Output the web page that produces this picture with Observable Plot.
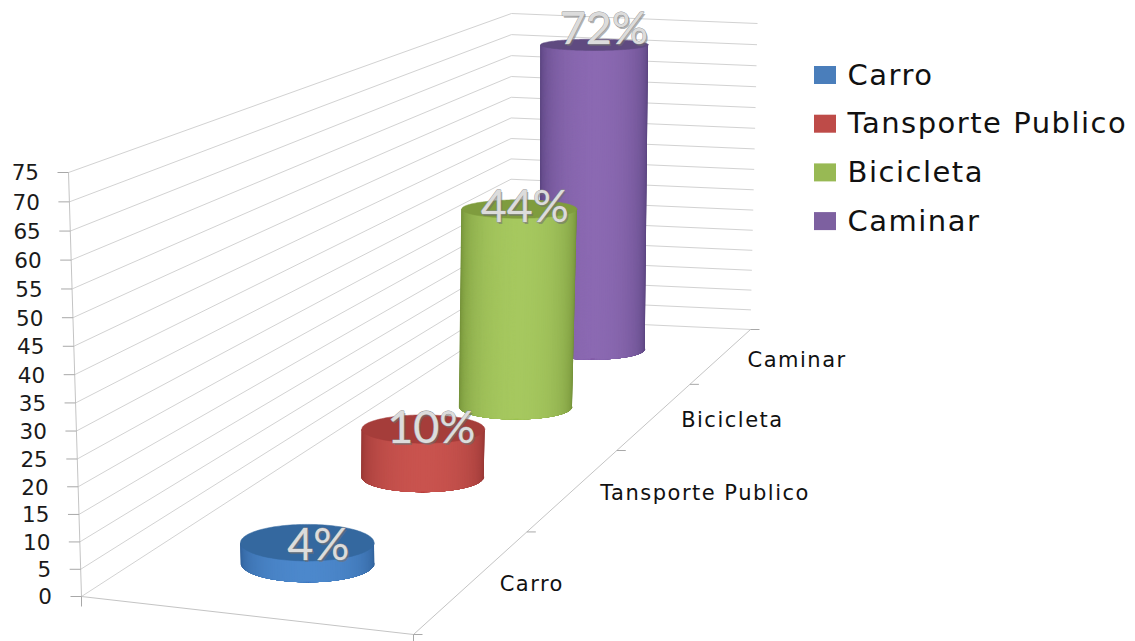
<!DOCTYPE html>
<html>
<head>
<meta charset="utf-8">
<script src="https://cdn.jsdelivr.net/npm/d3@7"></script>
<script src="https://cdn.jsdelivr.net/npm/@observablehq/plot@0.6"></script>
<style>
  html, body { margin: 0; padding: 0; background: #fff; }
  .cat-label { letter-spacing: 1.5px; }
  .legend-label { letter-spacing: 1.5px; }
</style>
</head>
<body>
<div id="chart"></div>
<script>
// Series
const categories = ["Carro", "Tansporte Publico", "Bicicleta", "Caminar"];
const values = [4, 10, 44, 72];
const valueTicks = [0, 5, 10, 15, 20, 25, 30, 35, 40, 45, 50, 55, 60, 65, 70, 75];

// Palette, one entry per category
const legendColors = ["#4a7ebb", "#be4b48", "#98b954", "#7d60a0"];
const sideDark = ["#2d5c94", "#8f3230", "#6d8a33", "#533f78"];
const sideLight = ["#4c88cc", "#c9534e", "#a6c85f", "#8b69b2"];
const capColors = ["#34689f", "#a53d3a", "#7f9c3e", "#5f4a80"];

// Nudges of each value label relative to its column cap
const labelShift = [11, 8, 5.5, 9.5];
const labelLift = [-3, 0, 1, 15];

// Box corners on screen: front-left, front-right, back-right, back-left
const floorCorners = [[81, 596], [413, 634], [750, 329], [510, 318]];
const roofCorners = [[68, 172], [411, 234], [757, 23], [511, 13]];
const valueMax = 75;
const verticalPerspective = 0.96;
const columnCentre = 0.494;
const radiusAcross = 0.21;
const radiusDepth = 0.048;

// Maps the unit square onto a quadrilateral
function homography([p0, p1, p2, p3]) {
  const dx1 = p1[0] - p2[0], dx2 = p3[0] - p2[0], sx = p0[0] - p1[0] + p2[0] - p3[0];
  const dy1 = p1[1] - p2[1], dy2 = p3[1] - p2[1], sy = p0[1] - p1[1] + p2[1] - p3[1];
  const det = dx1 * dy2 - dx2 * dy1;
  const g = (sx * dy2 - dx2 * sy) / det;
  const h = (dx1 * sy - sx * dy1) / det;
  const a = p1[0] - p0[0] + g * p1[0], b = p3[0] - p0[0] + h * p3[0];
  const d = p1[1] - p0[1] + g * p1[1], e = p3[1] - p0[1] + h * p3[1];
  return (u, v) => {
    const w = g * u + h * v + 1;
    return [(a * u + b * v + p0[0]) / w, (d * u + e * v + p0[1]) / w];
  };
}
const floorMap = homography(floorCorners);
const roofMap = homography(roofCorners);

// Chart space to screen: u runs across, c runs into the depth, v is the value
function project(u, c, v) {
  const t = v / valueMax;
  const a = floorMap(u, c), b = roofMap(u, c);
  const wb = t * verticalPerspective, wa = 1 - t;
  return [(wb * b[0] + wa * a[0]) / (wb + wa), (wb * b[1] + wa * a[1]) / (wb + wa)];
}
const depthOf = (i) => (i + 0.5) / categories.length;
const seg = (a, b) => ({x1: a[0], y1: a[1], x2: b[0], y2: b[1]});

// Upright ellipse of a column at a given level: centre plus local screen radii
function ellipseAt(c, level) {
  const [cx, cy] = project(columnCentre, c, level);
  const span = project(1, c, level)[0] - project(0, c, level)[0];
  const rise = (project(columnCentre, c - 0.02, level)[1] - project(columnCentre, c + 0.02, level)[1]) / 0.04;
  const rx = radiusAcross * span, ry = radiusDepth * rise;
  return (a) => [cx + rx * Math.cos(a), cy + ry * Math.sin(a)];
}

// Wall gridlines
const grid = valueTicks.flatMap((v) => [
  seg(project(0, 0, v), project(0, 1, v)),
  seg(project(0, 1, v), project(1, 1, v))
]);
// Axis lines along the floor and up the front edge
const axes = [
  seg(project(0, 0, 0), project(0, 0, valueMax)),
  seg(project(0, 0, 0), project(1, 0, 0)),
  seg(project(1, 0, 0), project(1, 1, 0))
];
const valueTickMarks = valueTicks.map((v) => {
  const p = project(0, 0, v);
  return seg([p[0] - 11, p[1]], p);
});
const depthBounds = d3.range(categories.length + 1).map((i) => i / categories.length);
const depthTickMarks = depthBounds.map((c) => {
  const p = project(1, c, 0);
  return seg(p, [p[0] + 9, p[1]]);
});
const cornerTicks = [project(0, 0, 0), project(1, 0, 0)].map((p) => seg(p, [p[0], p[1] + 10]));

// Cylinders become filled polygons, painted back to front.
// The wall is a stack of nested bands, each narrower and brighter than the last,
// which gives a smooth sideways shading without seams between neighbours.
const polys = [];
const bands = 40, arcPoints = 48;
categories.map((_, i) => i).reverse().forEach((i) => {
  const c0 = depthOf(i), v = values[i];
  const base = ellipseAt(c0, 0), top = ellipseAt(c0, v);
  const shade = d3.interpolateRgb(sideDark[i], sideLight[i]);
  d3.range(bands).forEach((k) => {
    const from = (k / bands) * (Math.PI / 2), to = Math.PI - from;
    const fill = shade(Math.pow(Math.sin(from), 0.75));
    const id = `side-${i}-${k}`;
    const arc = d3.range(arcPoints + 1).map((n) => from + (n / arcPoints) * (to - from));
    [...arc.map(base), ...arc.slice().reverse().map(top)].forEach(([x, y]) =>
      polys.push({id, x, y, fill}));
  });
  d3.range(arcPoints * 3).forEach((k) => {
    const [x, y] = top((k / (arcPoints * 3)) * 2 * Math.PI);
    polys.push({id: `cap-${i}`, x, y, fill: capColors[i]});
  });
});

// Value labels sit on the column caps
const barLabels = categories.map((name, i) => {
  const p = project(columnCentre, depthOf(i), values[i]);
  return {x: p[0] + labelShift[i], y: p[1] - labelLift[i], text: `${values[i]}%`};
});
const valueLabels = valueTicks.map((v) => {
  const p = project(0, 0, v);
  return {x: p[0] - 29.5, y: p[1] + 1, text: String(v)};
});
const categoryLabels = categories.map((name, i) => {
  const p = project(1, depthOf(i), 0);
  return {x: p[0] + 26, y: p[1] + 4.5, text: name};
});

// Legend entries stacked down the right side
const legendLeft = 814, legendTop = 75, legendStep = 48.7;
const legend = categories.map((name, i) => ({
  name, color: legendColors[i], y: legendTop + i * legendStep
}));

const sans = "DejaVu Sans";
const plot = Plot.plot({
  width: 1135,
  height: 641,
  margin: 0,
  x: {domain: [0, 1135], range: [0, 1135], axis: null},
  y: {domain: [0, 641], range: [0, 641], axis: null},
  style: {background: "#fff"},
  marks: [
    Plot.link(grid, {x1: "x1", y1: "y1", x2: "x2", y2: "y2", stroke: "#d2d2d2", strokeWidth: 1}),
    Plot.link(axes, {x1: "x1", y1: "y1", x2: "x2", y2: "y2", stroke: "#c4c4c4", strokeWidth: 1}),
    Plot.link(valueTickMarks, {x1: "x1", y1: "y1", x2: "x2", y2: "y2", stroke: "#a8a8a8", strokeWidth: 1}),
    Plot.link(depthTickMarks, {x1: "x1", y1: "y1", x2: "x2", y2: "y2", stroke: "#a8a8a8", strokeWidth: 1}),
    Plot.link(cornerTicks, {x1: "x1", y1: "y1", x2: "x2", y2: "y2", stroke: "#a8a8a8", strokeWidth: 1}),
    Plot.line(polys, {x: "x", y: "y", z: "id", fill: "fill", stroke: "fill", strokeWidth: 0.5, strokeLinejoin: "round"}),
    Plot.text(valueLabels, {
      x: "x", y: "y", text: "text", textAnchor: "end",
      fontFamily: sans, fontSize: 21.5, fill: "#1a1a1a"
    }),
    Plot.text(categoryLabels, {
      x: "x", y: "y", text: "text", textAnchor: "start", className: "cat-label",
      fontFamily: sans, fontSize: 21, fill: "#111"
    }),
    Plot.text(barLabels, {
      x: "x", y: "y", dx: 1.5, dy: 1.5, text: "text",
      fontFamily: "Lato", fontSize: 45, fill: "#6f6f6f", fillOpacity: 0.55
    }),
    Plot.text(barLabels, {
      x: "x", y: "y", text: "text",
      fontFamily: "Lato", fontSize: 45, fill: "#dcdcdc", stroke: "#8c8c8c", strokeWidth: 0.8
    }),
    Plot.rect(legend, {
      x1: () => legendLeft, x2: () => legendLeft + 22,
      y1: (d) => d.y - 9, y2: (d) => d.y + 9, fill: "color"
    }),
    Plot.text(legend, {
      x: () => legendLeft + 33, y: "y", text: "name", textAnchor: "start", className: "legend-label",
      fontFamily: sans, fontSize: 29, fill: "#111"
    })
  ]
});
document.getElementById("chart").appendChild(plot);
</script>
</body>
</html>
